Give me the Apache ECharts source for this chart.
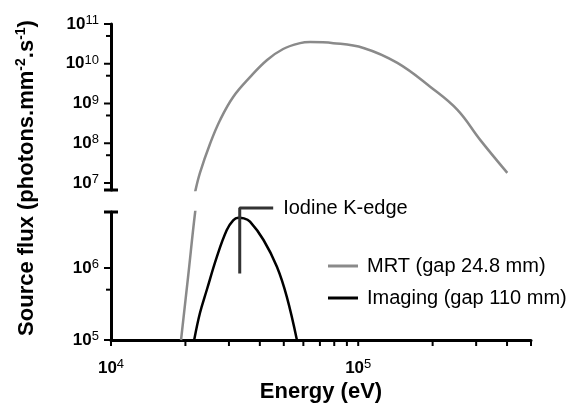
<!DOCTYPE html>
<html>
<head>
<meta charset="UTF-8" />
<script src="https://cdn.jsdelivr.net/npm/echarts@6.0.0/dist/echarts.min.js"></script>
<style type="text/css">
    *{
        margin: 0;
        padding: 0;
    }
    #chart{
        width: 571px;
        height: 406px;
    }
</style>
</head>
<body>
<div id="chart"></div>
<script type="text/javascript">
// MRT beam (gap 24.8 mm)
var mrtEnergy = [19200, 20500, 21900, 22900, 25200, 27600, 31200, 36500, 42800, 49700, 58200, 63900, 79300, 105000, 144000, 196000, 252000, 312000, 401000];
var mrtFlux = [1e5, 7.5e5, 6e6, 1.8e7, 1.0e8, 3.8e8, 1.46e9, 4.6e9, 1.24e10, 2.35e10, 3.3e10, 3.5e10, 3.3e10, 2.5e10, 1.05e10, 2.6e9, 6.9e8, 1.2e8, 1.8e7];

// imaging beam (gap 110 mm)
var imgEnergy = [21700, 22900, 24400, 26800, 29400, 31200, 32700, 34500, 36500, 41400, 46900, 51400, 56500];
var imgFlux = [1e5, 2.37e5, 4.95e5, 1.43e6, 3.37e6, 4.6e6, 5.0e6, 4.9e6, 4.4e6, 2.45e6, 1.04e6, 4.0e5, 1e5];

// iodine K-edge marker
var kEdgeEnergy = [33170, 33170, 45300];
var kEdgeFlux = [8.4e5, 6.8e6, 6.8e6];
var kEdgeText = 'Iodine K-edge';

// ticks
var xTicks = [1e4, 2e4, 3e4, 4e4, 5e4, 6e4, 7e4, 8e4, 9e4, 1e5, 2e5, 3e5, 4e5, 5e5];
var yUpperMajor = [1e7, 1e8, 1e9, 1e10, 1e11];
var yUpperMinor = [5e7, 5e8, 5e9, 5e10];
var yLowerMajor = [1e5, 1e6];
var yLowerMinor = [5e5];

var font = 'Liberation Sans, Arial, Helvetica, sans-serif';

// layout of the two halves of the broken y axis
var gridLeft = 111, gridWidth = 420;
var upperTop = 24, upperHeight = 166;
var lowerTop = 212, lowerHeight = 128;

function pairs(xs, ys) {
    var out = [];
    for (var i = 0; i < xs.length; i++) {
        out.push([xs[i], ys[i]]);
    }
    return out;
}

function powLabel(v) {
    var lg = Math.log(v) / Math.LN10;
    var e = Math.round(lg);
    if (Math.abs(lg - e) > 1e-6) return '';
    return '{b|10}{s|' + e + '}';
}

var labelRich = {
    b: {fontSize: 17, fontWeight: 'bold', fontFamily: font, color: '#000', lineHeight: 20},
    s: {fontSize: 13, fontFamily: font, color: '#000', lineHeight: 11, verticalAlign: 'top'}
};

function yAxisFor(gridIndex, min, max) {
    return {
        type: 'log',
        gridIndex: gridIndex,
        min: min,
        max: max,
        axisLine: {show: true, lineStyle: {color: '#000', width: 3}},
        axisTick: {show: false},
        axisLabel: {formatter: powLabel, margin: 12, rich: labelRich, showMinLabel: true, showMaxLabel: true},
        splitLine: {show: false},
        minorTick: {show: false}
    };
}

var MRT = 'MRT (gap 24.8 mm)';
var IMG = 'Imaging (gap 110 mm)';
var mrtData = pairs(mrtEnergy, mrtFlux);

var baseGraphic = [
    {
        type: 'text',
        x: 27,
        y: 178,
        rotation: Math.PI / 2,
        style: {
            text: '{a|Source flux (photons.mm}{s|-2}{a|.s}{s|-1}{a|)}',
            align: 'center',
            verticalAlign: 'middle',
            rich: {
                a: {fontSize: 22, fontWeight: 'bold', fontFamily: font, fill: '#000', lineHeight: 26},
                s: {fontSize: 14, fontWeight: 'bold', fontFamily: font, fill: '#000', lineHeight: 14, verticalAlign: 'top'}
            }
        }
    },
    // break caps at the ends of the two y-axis halves
    {
        type: 'line',
        shape: {x1: gridLeft - 7, y1: upperTop + upperHeight, x2: gridLeft + 7, y2: upperTop + upperHeight},
        style: {stroke: '#000', lineWidth: 3}
    },
    {
        type: 'line',
        shape: {x1: gridLeft - 7, y1: lowerTop, x2: gridLeft + 7, y2: lowerTop},
        style: {stroke: '#000', lineWidth: 3}
    }
];

var myChart = echarts.init(document.getElementById('chart'));
var option = {
    animation: false,
    backgroundColor: '#fff',
    grid: [
        {left: gridLeft, top: upperTop, width: gridWidth, height: upperHeight},
        {left: gridLeft, top: lowerTop, width: gridWidth, height: lowerHeight}
    ],
    xAxis: [
        {type: 'log', gridIndex: 0, min: 1e4, max: 5e5, show: false},
        {
            type: 'log', gridIndex: 1, min: 1e4, max: 5e5,
            axisLine: {show: true, lineStyle: {color: '#000', width: 3}},
            axisTick: {show: false},
            axisLabel: {formatter: powLabel, margin: 18, rich: labelRich, showMaxLabel: false},
            splitLine: {show: false},
            minorTick: {show: false},
            name: 'Energy (eV)',
            nameLocation: 'middle',
            nameGap: 52,
            nameTextStyle: {fontSize: 22, fontWeight: 'bold', fontFamily: font, color: '#000', verticalAlign: 'middle'}
        }
    ],
    yAxis: [
        yAxisFor(0, 6.67e6, 1e11),
        yAxisFor(1, 1e5, 6e6)
    ],
    legend: {
        data: [MRT, IMG],
        orient: 'vertical',
        left: 323,
        top: 251,
        icon: 'rect',
        itemWidth: 30,
        itemHeight: 3,
        itemGap: 12,
        textStyle: {fontSize: 20, fontFamily: font, color: '#000', lineHeight: 20, padding: [0, 0, 0, 4]}
    },
    series: [
        {
            name: MRT, type: 'line', xAxisIndex: 0, yAxisIndex: 0,
            data: mrtData, symbol: 'none', smooth: 0.4,
            lineStyle: {color: '#8a8a8a', width: 2.5}, itemStyle: {color: '#8a8a8a'}
        },
        {
            name: MRT, type: 'line', xAxisIndex: 1, yAxisIndex: 1,
            data: mrtData, symbol: 'none', smooth: 0.4,
            lineStyle: {color: '#8a8a8a', width: 2.5}, itemStyle: {color: '#8a8a8a'}
        },
        {
            name: IMG, type: 'line', xAxisIndex: 1, yAxisIndex: 1,
            data: pairs(imgEnergy, imgFlux), symbol: 'none', smooth: 0.4,
            lineStyle: {color: '#000', width: 2.5}, itemStyle: {color: '#000'}
        },
        {
            name: 'K-edge', type: 'line', xAxisIndex: 1, yAxisIndex: 1,
            data: pairs(kEdgeEnergy, kEdgeFlux), symbol: 'none', clip: false,
            lineStyle: {color: '#333', width: 3}, itemStyle: {color: '#333'}
        }
    ],
    graphic: baseGraphic
};
try {
    myChart.setOption(option);
} catch (e) {
    console.log(e);
}

// ticks and the K-edge label, placed through the axes' own log scales
function tick(x1, y1, x2, y2) {
    return {type: 'line', shape: {x1: x1, y1: y1, x2: x2, y2: y2}, style: {stroke: '#000', lineWidth: 2}};
}
var extra = [];
var lowerBottom = lowerTop + lowerHeight;
xTicks.forEach(function (v) {
    var px = myChart.convertToPixel({xAxisIndex: 1}, v);
    extra.push(tick(px, lowerBottom, px, lowerBottom + 6));
});
function yTicks(axisIndex, values, len) {
    values.forEach(function (v) {
        var py = myChart.convertToPixel({yAxisIndex: axisIndex}, v);
        extra.push(tick(gridLeft - len, py, gridLeft, py));
    });
}
yTicks(0, yUpperMajor, 7);
yTicks(0, yUpperMinor, 5);
yTicks(1, yLowerMajor, 7);
yTicks(1, yLowerMinor, 5);

var kEnd = myChart.convertToPixel({gridIndex: 1}, [kEdgeEnergy[2], kEdgeFlux[2]]);
extra.push({
    type: 'text',
    x: kEnd[0] + 10,
    y: kEnd[1],
    style: {text: kEdgeText, fontSize: 20, fontFamily: font, fill: '#000', align: 'left', verticalAlign: 'middle'}
});
myChart.setOption({graphic: baseGraphic.concat(extra)});
</script>
</body>
</html>
